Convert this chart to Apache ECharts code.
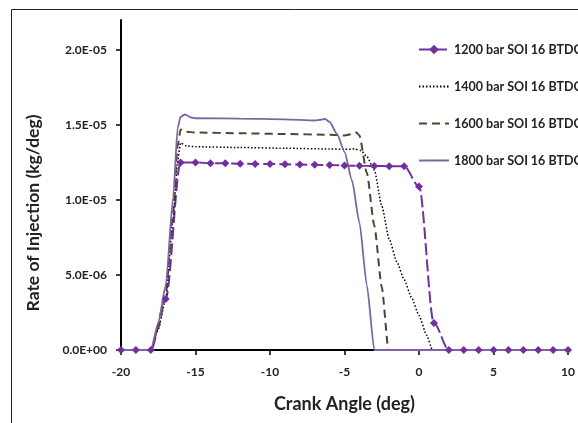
<!DOCTYPE html>
<html>
<head>
<meta charset="utf-8">
<script src="https://cdn.jsdelivr.net/npm/echarts@6/dist/echarts.min.js"></script>
<style>
html,body{margin:0;padding:0;background:#fff;}
#chart{width:578px;height:423px;}
</style>
</head>
<body>
<div id="chart"></div>
<script>
// ---- data (crank angle in deg, rate of injection in kg/deg) ----
const seriesNames = ['1200 bar SOI 16 BTDC', '1400 bar SOI 16 BTDC', '1600 bar SOI 16 BTDC', '1800 bar SOI 16 BTDC'];

const angle1200 = [-20,-19,-18,-17,-16,-15,-14,-13,-12,-11,-10,-9,-8,-7,-6,-5,-4,-3,-2,-1,0,1,2,3,4,5,6,7,8,9,10];
const rate1200  = [0,0,0,3.4e-6,12.5e-6,12.5e-6,12.45e-6,12.45e-6,12.42e-6,12.4e-6,12.4e-6,12.38e-6,12.36e-6,12.35e-6,12.33e-6,12.3e-6,12.28e-6,12.27e-6,12.25e-6,12.25e-6,10.9e-6,1.8e-6,0,0,0,0,0,0,0,0,0];

const angle1400 = [-20,-18,-17.5,-17,-16.5,-16.2,-16,-15.6,-15,-12,-9,-6,-5,-4.3,-3.9,-3.5,-3,-2.5,-2,-1.5,-1,-0.5,0,0.5,0.9,10];
const rate1400  = [0,0,1.4e-6,3.4e-6,8.8e-6,12.6e-6,13.8e-6,13.6e-6,13.55e-6,13.5e-6,13.45e-6,13.4e-6,13.38e-6,13.4e-6,13.3e-6,12.9e-6,12.0e-6,9.6e-6,7.4e-6,5.9e-6,4.7e-6,3.5e-6,2.3e-6,1.0e-6,0,0];

const angle1600 = [-20,-18,-17.5,-17,-16.5,-16.2,-16,-15.7,-15,-12,-9,-6,-5,-4.5,-4.2,-4,-3.5,-3,-2.5,-2.05,10];
const rate1600  = [0,0,1.5e-6,3.7e-6,9.2e-6,13.6e-6,14.7e-6,14.55e-6,14.5e-6,14.45e-6,14.4e-6,14.35e-6,14.3e-6,14.4e-6,14.5e-6,14.3e-6,11.8e-6,8.3e-6,4.2e-6,0,0];

const angle1800 = [-20,-18,-17.5,-17,-16.5,-16.2,-16,-15.7,-15.3,-15,-12,-9,-7,-6.6,-6.3,-6,-5.5,-5,-4.5,-4,-3.5,-3,10];
const rate1800  = [0,0,1.8e-6,4.3e-6,10.2e-6,14.8e-6,15.55e-6,15.7e-6,15.5e-6,15.45e-6,15.43e-6,15.38e-6,15.3e-6,15.35e-6,15.4e-6,15.2e-6,14.4e-6,13.2e-6,11.3e-6,8.5e-6,4.3e-6,0,0];

const yTickValues = [0, 5e-6, 1e-5, 1.5e-5, 2e-5];

function pairs(xs, ys){ return xs.map((x,i)=>[x, ys[i]]); }
function sci(v){
  if (v === 0) return '0.0E+00';
  const e = Math.floor(Math.log10(Math.abs(v)) + 1e-9);
  const m = v / Math.pow(10, e);
  return m.toFixed(1) + 'E' + (e < 0 ? '-' : '+') + String(Math.abs(e)).padStart(2, '0');
}

const FONT = 'Lato';
const chart = echarts.init(document.getElementById('chart'), null, {renderer: 'canvas'});
chart.setOption({
  animation: false,
  backgroundColor: '#fff',
  graphic: [{
    type: 'rect', z: -1, silent: true,
    shape: {x: 11.5, y: 9.5, width: 700, height: 600},
    style: {fill: 'none', stroke: '#222', lineWidth: 1}
  }],
  grid: {left: 121, right: 7, top: 20, bottom: 73},
  legend: {
    orient: 'vertical', left: 413, top: 38, itemGap: 24, itemWidth: 30, itemHeight: 12,
    data: [
      {name: seriesNames[0]},
      {name: seriesNames[1], itemStyle: {opacity: 0}},
      {name: seriesNames[2], itemStyle: {opacity: 0}},
      {name: seriesNames[3], itemStyle: {opacity: 0}}
    ],
    textStyle: {fontFamily: FONT, fontSize: 12.5, fontWeight: 'bold', color: '#222'}
  },
  xAxis: {
    type: 'value', min: -20, max: 10, interval: 5,
    name: 'Crank Angle (deg)', nameLocation: 'middle', nameGap: 45,
    nameTextStyle: {fontFamily: FONT, fontSize: 18, fontWeight: 'bold', color: '#222'},
    axisLine: {onZero: false, lineStyle: {color: '#000', width: 2}},
    axisTick: {show: true, inside: false, length: 5, lineStyle: {color: '#000', width: 1.5}},
    axisLabel: {margin: 16, fontFamily: FONT, fontSize: 12, fontWeight: 'bold', color: '#222'},
    splitLine: {show: false}
  },
  yAxis: {
    type: 'value', min: 0, max: 2.2e-5,
    name: 'Rate of Injection (kg/deg)', nameLocation: 'middle', nameGap: 79,
    nameTextStyle: {fontFamily: FONT, fontSize: 17.5, fontWeight: 'bold', color: '#222', padding: [0, 56, 0, 0]},
    axisLine: {onZero: false, lineStyle: {color: '#000', width: 2}},
    axisTick: {show: true, inside: false, length: 5, customValues: yTickValues, lineStyle: {color: '#000', width: 1.5}},
    axisLabel: {margin: 14, customValues: yTickValues, formatter: sci, fontFamily: FONT, fontSize: 12, fontWeight: 'bold', color: '#222'},
    splitLine: {show: false}
  },
  series: [
    {
      name: seriesNames[0], type: 'line', data: pairs(angle1200, rate1200),
      smooth: 0.3, smoothMonotone: 'x', symbol: 'diamond', symbolSize: 8, showSymbol: true,
      itemStyle: {color: '#7030a0'},
      lineStyle: {color: '#7030a0', width: 2, type: [12, 4]}
    },
    {
      name: seriesNames[1], type: 'line', data: pairs(angle1400, rate1400),
      smooth: 0.2, smoothMonotone: 'x', symbol: 'none',
      itemStyle: {color: '#000'},
      lineStyle: {color: '#000', width: 1.5, type: [1.5, 2]}
    },
    {
      name: seriesNames[2], type: 'line', data: pairs(angle1600, rate1600),
      smooth: 0.2, smoothMonotone: 'x', symbol: 'none',
      itemStyle: {color: '#4a4630'},
      lineStyle: {color: '#4a4630', width: 2, type: [8, 5]}
    },
    {
      name: seriesNames[3], type: 'line', data: pairs(angle1800, rate1800),
      smooth: 0.2, smoothMonotone: 'x', symbol: 'none',
      itemStyle: {color: '#8064a2'},
      lineStyle: {color: '#8064a2', width: 1.8}
    }
  ]
});
</script>
</body>
</html>
